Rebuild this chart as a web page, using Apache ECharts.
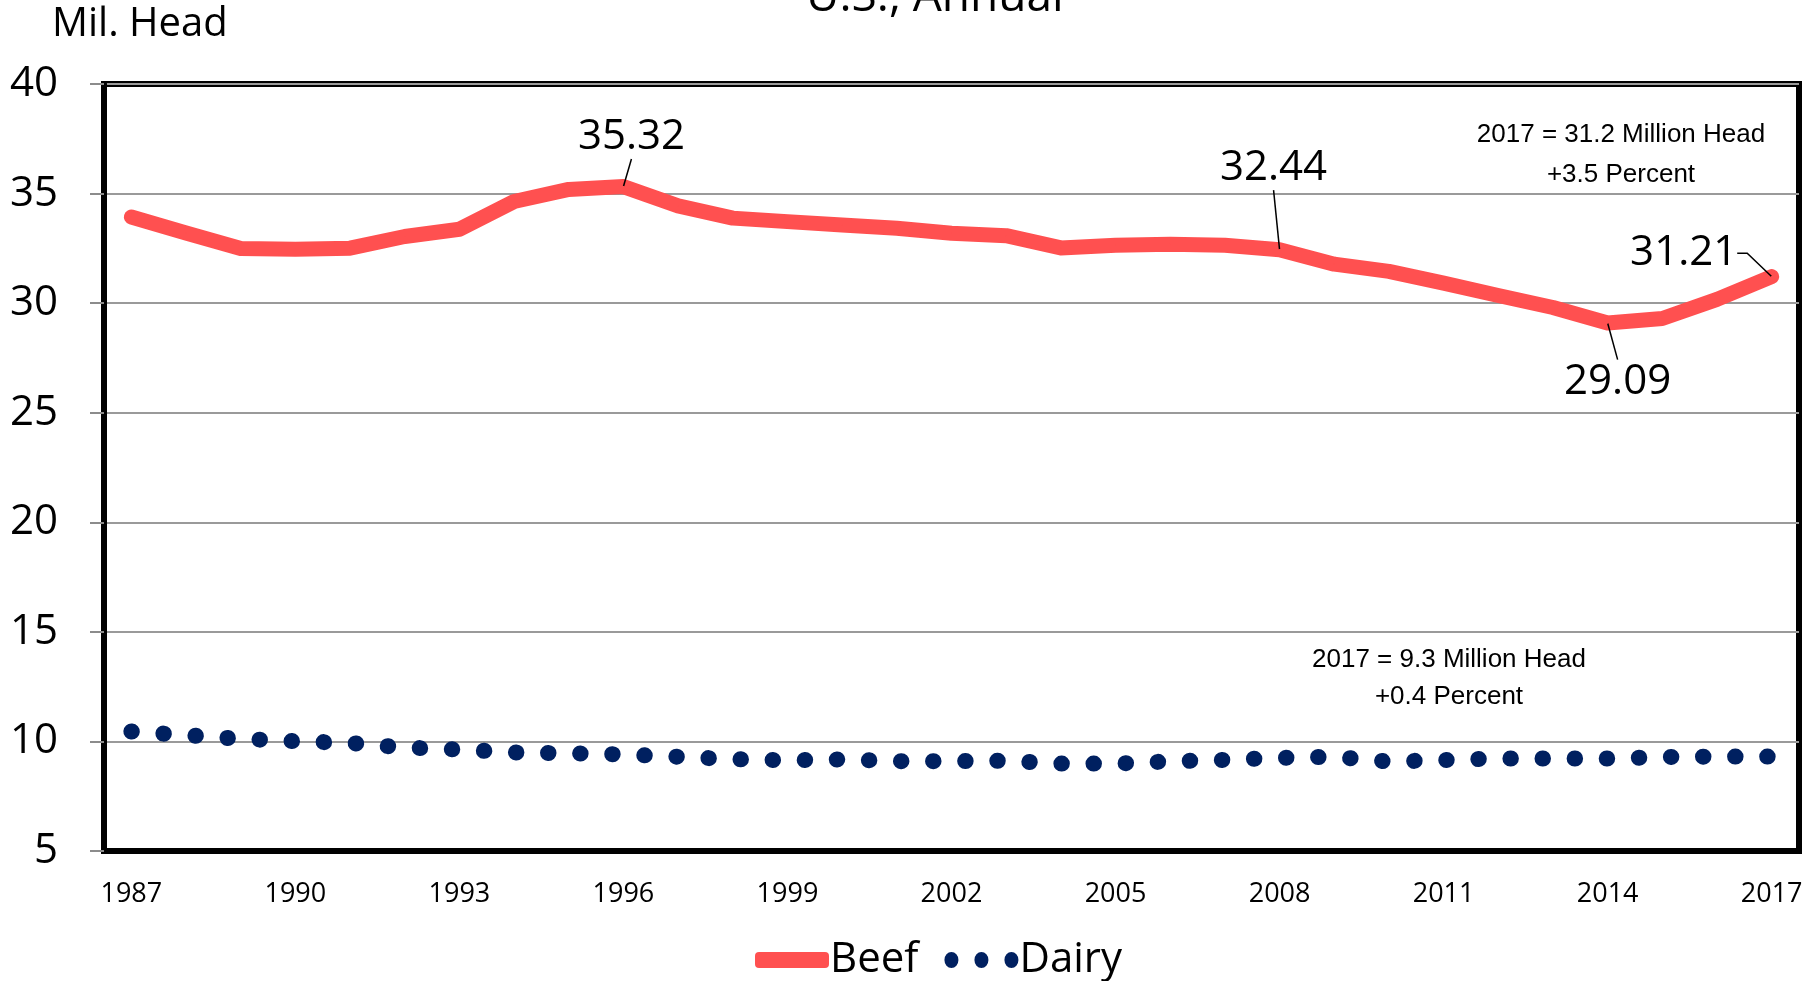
<!DOCTYPE html>
<html>
<head>
    <meta charset="utf-8">
    <title>Beef and Dairy Cows</title>
    <script src="https://cdn.jsdelivr.net/npm/echarts@6/dist/echarts.min.js"></script>
    <style>
        html, body { margin: 0; padding: 0; background: #fff; }
        #chart1 { width: 1814px; height: 981px; }
    </style>
</head>
<body>
<div id="chart1"></div>
<script type="text/javascript">
    // 数据
    var years = ['1987', '1988', '1989', '1990', '1991', '1992', '1993', '1994', '1995', '1996',
        '1997', '1998', '1999', '2000', '2001', '2002', '2003', '2004', '2005', '2006',
        '2007', '2008', '2009', '2010', '2011', '2012', '2013', '2014', '2015', '2016', '2017'];
    var beef = [33.93, 33.20, 32.49, 32.46, 32.51, 33.04, 33.37, 34.64, 35.19, 35.32,
        34.44, 33.88, 33.72, 33.57, 33.42, 33.19, 33.08, 32.52, 32.64, 32.69,
        32.64, 32.44, 31.78, 31.45, 30.91, 30.35, 29.80, 29.09, 29.30, 30.17, 31.21];
    var dairy = [10.45, 10.29, 10.12, 10.01, 9.93, 9.72, 9.63, 9.50, 9.46, 9.41,
        9.30, 9.19, 9.14, 9.18, 9.10, 9.10, 9.12, 8.99, 8.99, 9.09,
        9.16, 9.25, 9.30, 9.08, 9.15, 9.22, 9.22, 9.22, 9.29, 9.31, 9.31];
    var labelYears = ['1996', '2008', '2014', '2017'];
    var beefNote = ['2017 = 31.2 Million Head', '+3.5 Percent'];
    var dairyNote = ['2017 = 9.3 Million Head', '+0.4 Percent'];

    // 标注偏移
    var labelShift = {
        '1996': [8, -22],
        '2008': [-6, -54],
        '2014': [10, 86],
        '2017': [-88, 4]
    };

    var font = 'Open Sans';
    var red = '#FF5050';
    var navy = '#002060';
    // 图例图标: 三个圆点
    var dotsIcon = 'path://M0,8a7,8 0 1,0 14,0a7,8 0 1,0 -14,0z' +
        'M30,8a7,8 0 1,0 14,0a7,8 0 1,0 -14,0z' +
        'M60,8a7,8 0 1,0 14,0a7,8 0 1,0 -14,0z';

    var beefData = beef.map(function (v, i) {
        if (labelYears.indexOf(years[i]) < 0) return v;
        var item = {
            value: v,
            label: {show: true},
            labelLine: {show: true}
        };
        if (years[i] === '2017') item.labelLine.length2 = 10;
        return item;
    });

    var myChart1 = echarts.init(document.getElementById('chart1'));
    myChart1.setOption({
        animation: false,
        backgroundColor: '#fff',
        textStyle: {fontFamily: font},
        grid: {
            left: 104, right: 15, top: 84, bottom: 130,
            show: true, borderColor: '#000', borderWidth: 6
        },
        graphic: [
            {type: 'text', left: 806, top: -25,
                style: {text: 'U.S., Annual', fontFamily: font, fontSize: 46, fill: '#000'}},
            {type: 'text', left: 52, top: 5,
                style: {text: 'Mil. Head', fontFamily: font, fontSize: 40, fill: '#000'}},
            {type: 'text', x: 1621, y: 115,
                style: {text: beefNote.join('\n'), fontFamily: 'Liberation Sans', fontSize: 26,
                    lineHeight: 40, align: 'center', fill: '#000'}},
            {type: 'text', x: 1449, y: 641,
                style: {text: dairyNote.join('\n'), fontFamily: 'Liberation Sans', fontSize: 26,
                    lineHeight: 37, align: 'center', fill: '#000'}}
        ],
        legend: {
            left: 750,
            top: 934,
            itemWidth: 74,
            itemHeight: 16,
            itemGap: 26,
            textStyle: {fontFamily: font, fontSize: 42, color: '#000', padding: [0, 0, 0, -4]},
            data: [
                {name: 'Beef', icon: 'roundRect', itemStyle: {color: red}},
                {name: 'Dairy', icon: dotsIcon, itemStyle: {color: navy}}
            ]
        },
        xAxis: {
            type: 'category',
            data: years,
            boundaryGap: true,
            axisLine: {lineStyle: {color: '#000', width: 6}},
            axisTick: {interval: 0, length: 9, lineStyle: {color: '#000', width: 2}},
            axisLabel: {interval: 2, margin: 30, fontFamily: font, fontSize: 27, color: '#000'},
            splitLine: {show: false}
        },
        yAxis: {
            type: 'value',
            min: 5,
            max: 40,
            interval: 5,
            axisLine: {show: true, lineStyle: {color: '#000', width: 6}},
            axisTick: {show: true, length: 14, lineStyle: {color: '#8c8c8c', width: 2}},
            axisLabel: {margin: 46, fontFamily: font, fontSize: 42, color: '#000'},
            splitLine: {lineStyle: {color: '#9a9a9a', width: 2}}
        },
        series: [
            {
                name: 'Beef',
                type: 'line',
                data: beefData,
                symbol: 'circle',
                symbolSize: 1,
                showSymbol: true,
                z: 3,
                lineStyle: {color: red, width: 15, cap: 'round', join: 'round'},
                itemStyle: {color: red},
                label: {
                    show: false, position: 'top', distance: 5,
                    fontFamily: font, fontSize: 42, lineHeight: 44, color: '#000',
                    formatter: function (p) { return p.value.toFixed(2); }
                },
                labelLine: {show: false, lineStyle: {color: '#000', width: 1.5}},
                labelLayout: function (p) {
                    var s = labelShift[years[p.dataIndex]];
                    if (!s) return {};
                    return {dx: s[0], dy: s[1]};
                }
            },
            {
                name: 'Dairy',
                type: 'line',
                data: dairy,
                symbol: 'none',
                lineStyle: {color: navy, width: 16, type: [0.5, 31.6], cap: 'round'},
                itemStyle: {color: navy}
            }
        ]
    });
</script>
</body>
</html>
